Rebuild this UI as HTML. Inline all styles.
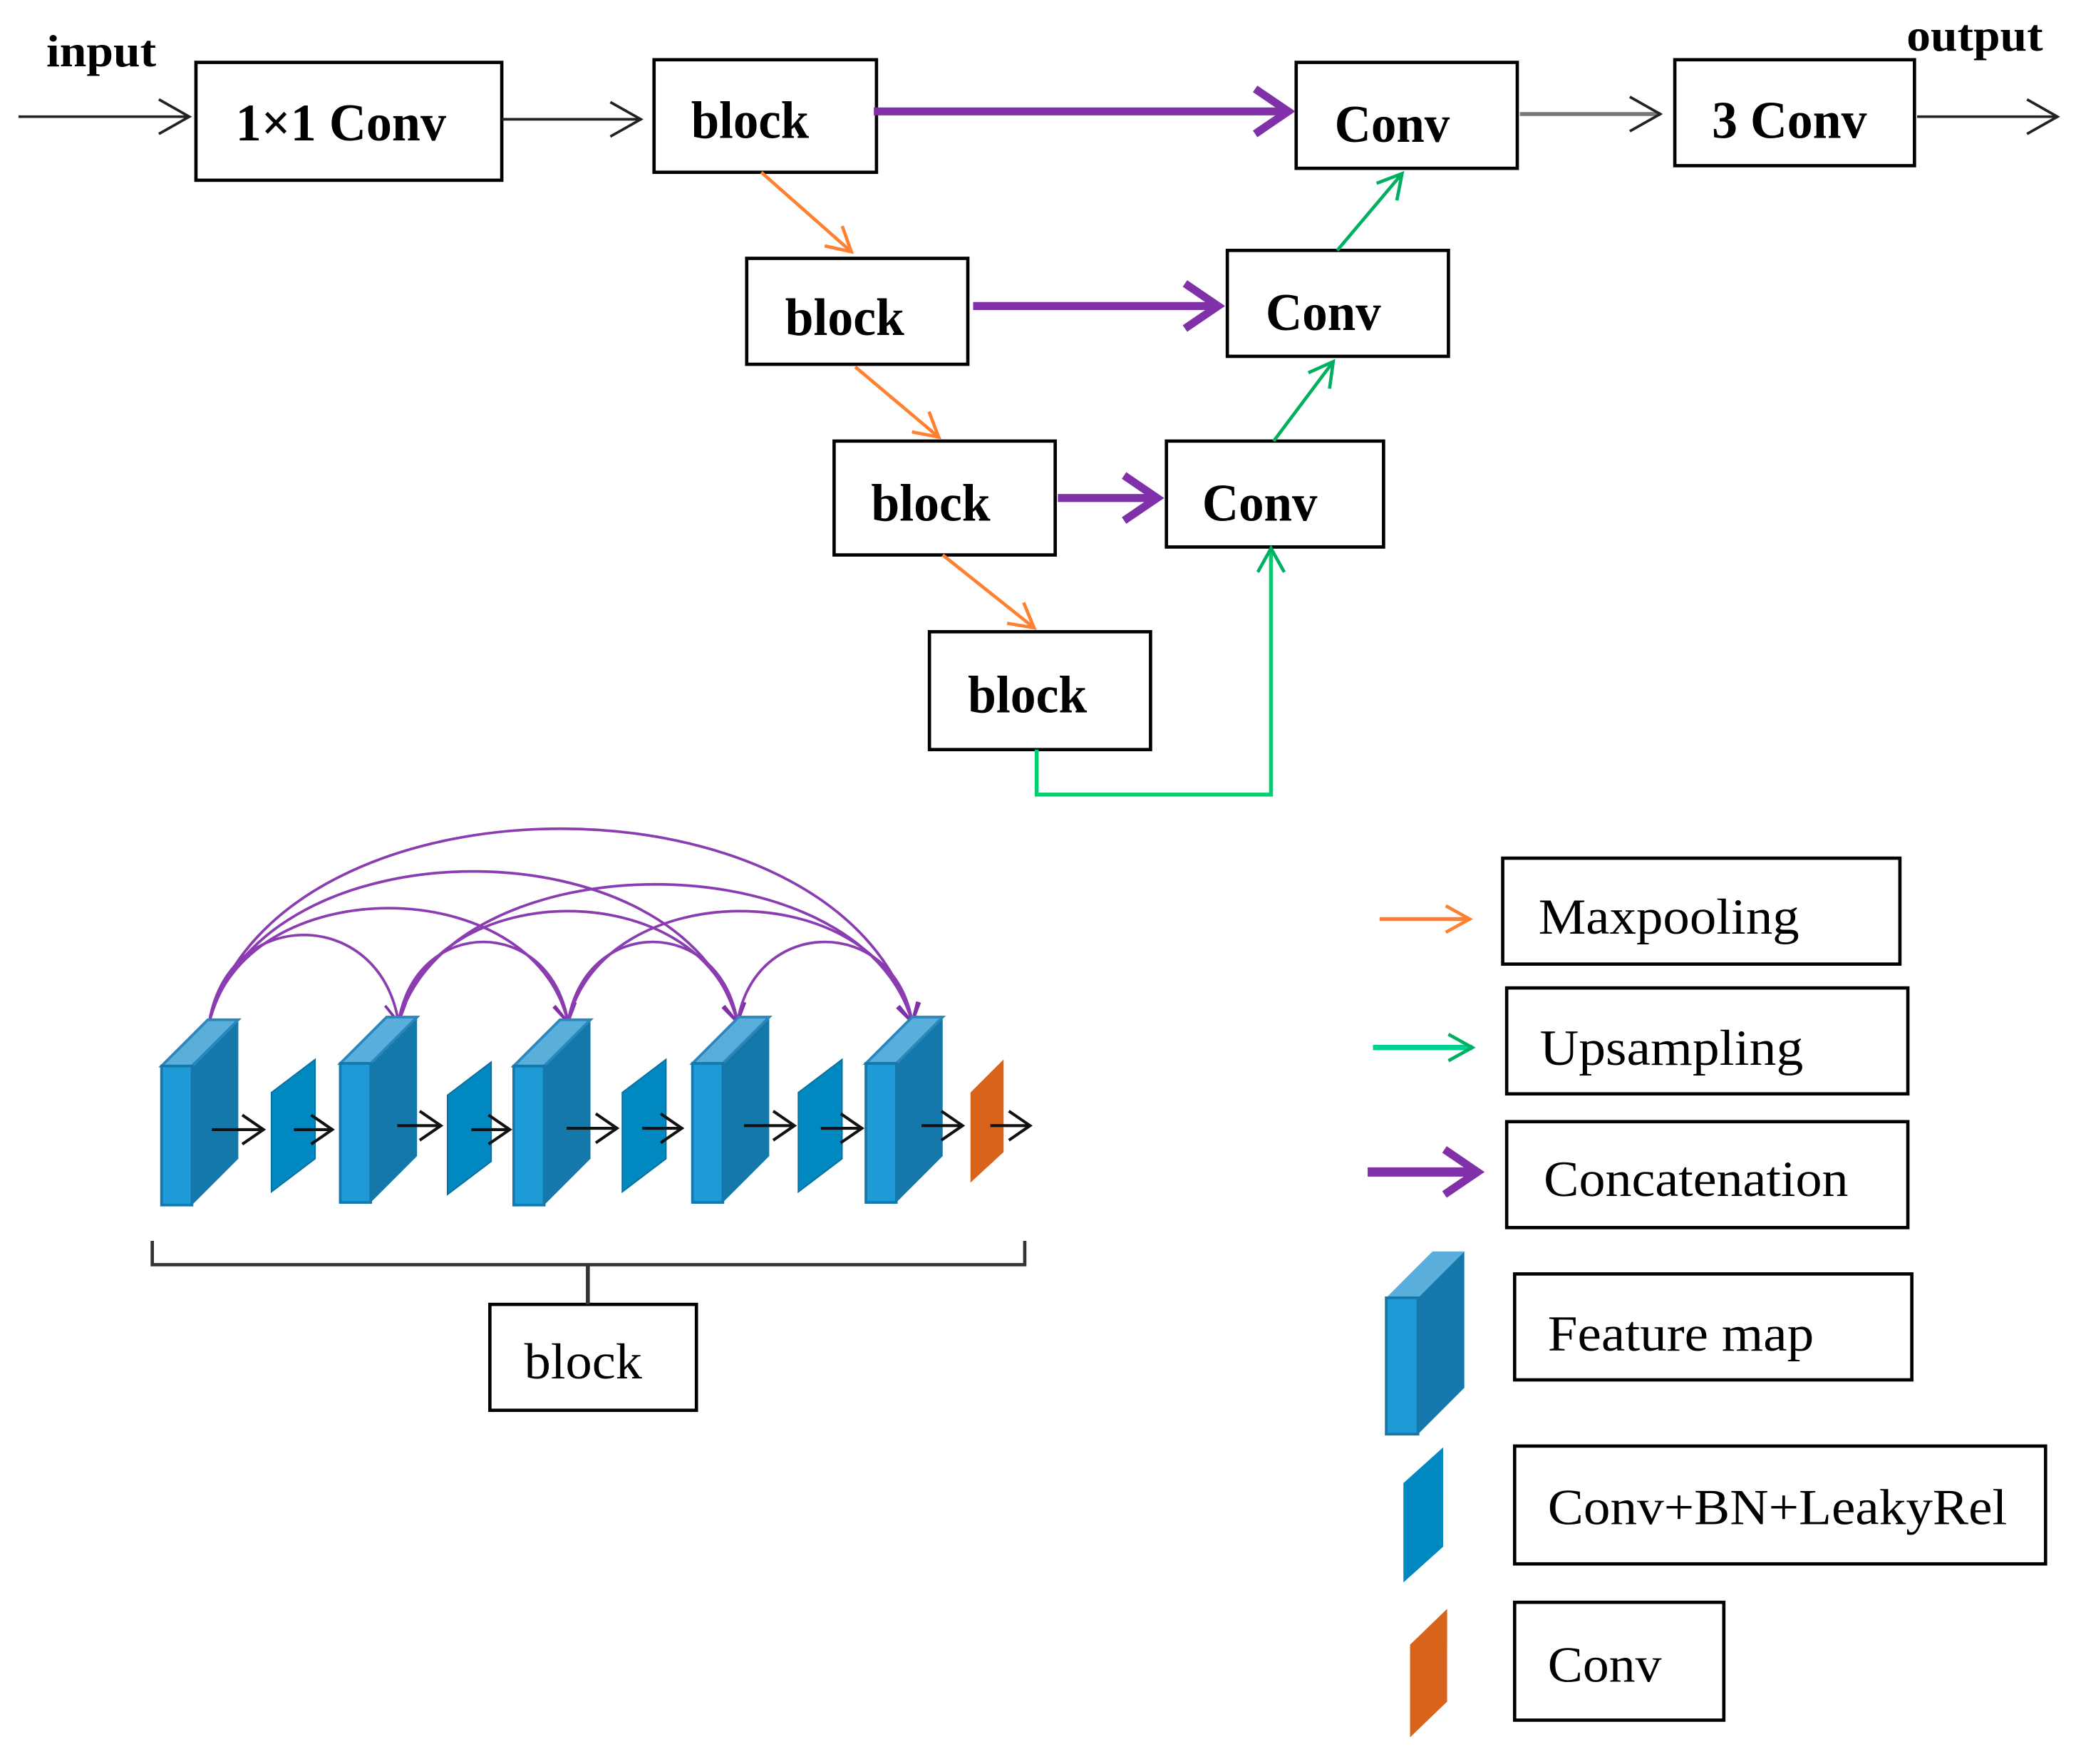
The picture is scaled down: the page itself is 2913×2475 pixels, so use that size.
<!DOCTYPE html>
<html><head><meta charset="utf-8"><style>html,body{margin:0;padding:0;background:#fff}svg{display:block}</style></head>
<body>
<svg width="2913" height="2475" viewBox="0 0 1568 1332" xmlns="http://www.w3.org/2000/svg">
<defs>
<marker id="mk" markerUnits="userSpaceOnUse" markerWidth="30" markerHeight="34" refX="25" refY="15" orient="auto"><path d="M2,2 L25,15 L2,28" fill="none" stroke="#222" stroke-width="2"/></marker>
<marker id="mo" markerUnits="userSpaceOnUse" markerWidth="30" markerHeight="30" refX="20" refY="12" orient="auto"><path d="M2,2 L20,12 L2,22" fill="none" stroke="#ff8030" stroke-width="2.5"/></marker>
<marker id="mg" markerUnits="userSpaceOnUse" markerWidth="30" markerHeight="30" refX="20" refY="12" orient="auto"><path d="M2,2 L20,12 L2,22" fill="none" stroke="#00b060" stroke-width="2.5"/></marker>
<marker id="mp" markerUnits="userSpaceOnUse" markerWidth="40" markerHeight="44" refX="30" refY="20" orient="auto"><path d="M5,3 L30,20 L5,37" fill="none" stroke="#8030a8" stroke-width="6"/></marker>
<marker id="mps" markerUnits="userSpaceOnUse" markerWidth="24" markerHeight="24" refX="16" refY="10" orient="auto"><path d="M2,2 L16,10 L2,18" fill="none" stroke="#8030a8" stroke-width="2"/></marker>
<marker id="ms" markerUnits="userSpaceOnUse" markerWidth="24" markerHeight="30" refX="18" refY="13" orient="auto"><path d="M2,2 L18,13 L2,24" fill="none" stroke="#111" stroke-width="2.2"/></marker>
<g id="fm">
<polygon points="23,-105 58,-140 58,-35 23,0" fill="#1479aa"/>
<polygon points="0,-105 35,-140 58,-140 23,-105" fill="#5aaedc" stroke="#2a86bb" stroke-width="2"/>
<rect x="0" y="-105" width="23" height="105" fill="#1e9ad6" stroke="#1478ac" stroke-width="2"/>
</g>
<polygon id="th" points="0,25 33,0 33,75 0,100" fill="#0088c0" stroke="#0a6e9e" stroke-width="1"/>
</defs>
<g fill="none" stroke="#000" stroke-width="2.5">
<rect x="148" y="47" width="231" height="89"/>
<rect x="494" y="45" width="168" height="85"/>
<rect x="979" y="47" width="167" height="80"/>
<rect x="1265" y="45" width="181" height="80"/>
<rect x="564" y="195" width="167" height="80"/>
<rect x="927" y="189" width="167" height="80"/>
<rect x="630" y="333" width="167" height="86"/>
<rect x="881" y="333" width="164" height="80"/>
<rect x="702" y="477" width="167" height="89"/>
<rect x="370" y="985" width="156" height="80"/>
<rect x="1135" y="648" width="300" height="80"/>
<rect x="1138" y="746" width="303" height="80"/>
<rect x="1138" y="847" width="303" height="80"/>
<rect x="1144" y="962" width="300" height="80"/>
<rect x="1144" y="1092" width="401" height="89"/>
<rect x="1144" y="1210" width="158" height="89"/>
</g>
<g font-family="Liberation Serif, serif" font-weight="bold" font-size="40" fill="#000">
<text x="35" y="50" font-size="34" textLength="83" lengthAdjust="spacingAndGlyphs">input</text>
<text x="1440" y="38" font-size="34" textLength="103" lengthAdjust="spacingAndGlyphs">output</text>
<text x="178" y="106" textLength="159" lengthAdjust="spacingAndGlyphs">1×1 Conv</text>
<text x="522" y="104" textLength="89" lengthAdjust="spacingAndGlyphs">block</text>
<text x="1008" y="107" textLength="87" lengthAdjust="spacingAndGlyphs">Conv</text>
<text x="1293" y="104" textLength="117" lengthAdjust="spacingAndGlyphs">3 Conv</text>
<text x="593" y="253" textLength="90" lengthAdjust="spacingAndGlyphs">block</text>
<text x="956" y="249" textLength="87" lengthAdjust="spacingAndGlyphs">Conv</text>
<text x="658" y="393" textLength="90" lengthAdjust="spacingAndGlyphs">block</text>
<text x="908" y="393" textLength="87" lengthAdjust="spacingAndGlyphs">Conv</text>
<text x="731" y="538" textLength="90" lengthAdjust="spacingAndGlyphs">block</text>
</g>
<g font-family="Liberation Serif, serif" font-size="38" fill="#000">
<text x="396" y="1041" textLength="89" lengthAdjust="spacingAndGlyphs">block</text>
<text x="1162" y="705" textLength="197" lengthAdjust="spacingAndGlyphs">Maxpooling</text>
<text x="1163" y="804" textLength="199" lengthAdjust="spacingAndGlyphs">Upsampling</text>
<text x="1166" y="903" textLength="230" lengthAdjust="spacingAndGlyphs">Concatenation</text>
<text x="1169" y="1020" textLength="201" lengthAdjust="spacingAndGlyphs">Feature map</text>
<text x="1169" y="1151" textLength="347" lengthAdjust="spacingAndGlyphs">Conv+BN+LeakyRel</text>
<text x="1169" y="1270" textLength="86" lengthAdjust="spacingAndGlyphs">Conv</text>
</g>
<g fill="none">
<line x1="14" y1="88" x2="143" y2="88" stroke="#222" stroke-width="2" marker-end="url(#mk)"/>
<line x1="379" y1="90" x2="484" y2="90" stroke="#222" stroke-width="2" marker-end="url(#mk)"/>
<line x1="1148" y1="86" x2="1254" y2="86" stroke="#777" stroke-width="3" marker-end="url(#mk)"/>
<line x1="1448" y1="88" x2="1554" y2="88" stroke="#222" stroke-width="2" marker-end="url(#mk)"/>
<line x1="660" y1="84" x2="973" y2="84" stroke="#8030a8" stroke-width="6" marker-end="url(#mp)"/>
<line x1="735" y1="231" x2="920" y2="231" stroke="#8030a8" stroke-width="6" marker-end="url(#mp)"/>
<line x1="799" y1="376" x2="874" y2="376" stroke="#8030a8" stroke-width="6" marker-end="url(#mp)"/>
<line x1="575" y1="130" x2="643" y2="190" stroke="#ff8030" stroke-width="2.5" marker-end="url(#mo)"/>
<line x1="646" y1="277" x2="709" y2="330" stroke="#ff8030" stroke-width="2.5" marker-end="url(#mo)"/>
<line x1="712" y1="419" x2="781" y2="474" stroke="#ff8030" stroke-width="2.5" marker-end="url(#mo)"/>
<line x1="1010" y1="189" x2="1059" y2="131" stroke="#00b060" stroke-width="2.5" marker-end="url(#mg)"/>
<line x1="962" y1="333" x2="1007" y2="273" stroke="#00b060" stroke-width="2.5" marker-end="url(#mg)"/>
<polyline points="783,566 783,600 960,600 960,414" stroke="#00d070" stroke-width="3" marker-end="url(#mg)"/>
<line x1="1042" y1="694" x2="1110" y2="694" stroke="#ff8030" stroke-width="3" marker-end="url(#mo)"/>
<line x1="1037" y1="791" x2="1112" y2="791" stroke="#00d090" stroke-width="4" marker-end="url(#mg)"/>
<line x1="1033" y1="885" x2="1116" y2="885" stroke="#8030a8" stroke-width="7" marker-end="url(#mp)"/>
<polyline points="115,937 115,955 774,955 774,937" stroke="#333" stroke-width="2.5"/>
<line x1="444" y1="955" x2="444" y2="985" stroke="#333" stroke-width="3"/>
</g>
<g fill="none" stroke="#8a3cb0" stroke-width="2">
<path d="M158,772 C172,684 287,684 301,772" marker-end="url(#mps)"/>
<path d="M158,772 C185,657 402,657 429,772" marker-end="url(#mps)"/>
<path d="M158,772 C198,620 517,620 557,772" marker-end="url(#mps)"/>
<path d="M158,772 C211,577 636,577 689,772" marker-end="url(#mps)"/>
<path d="M301,772 C314,691 416,691 429,772" marker-end="url(#mps)"/>
<path d="M301,772 C327,660 531,660 557,772" marker-end="url(#mps)"/>
<path d="M301,772 C340,633 650,633 689,772" marker-end="url(#mps)"/>
<path d="M429,772 C442,691 544,691 557,772" marker-end="url(#mps)"/>
<path d="M429,772 C455,660 663,660 689,772" marker-end="url(#mps)"/>
<path d="M557,772 C570,691 676,691 689,772" marker-end="url(#mps)"/>
</g>
<use href="#fm" x="122" y="910"/>
<use href="#fm" x="257" y="908"/>
<use href="#fm" x="388" y="910"/>
<use href="#fm" x="523" y="908"/>
<use href="#fm" x="654" y="908"/>
<use href="#th" x="205" y="800"/>
<use href="#th" x="338" y="802"/>
<use href="#th" x="470" y="800"/>
<use href="#th" x="603" y="800"/>
<polygon points="733,825 758,800 758,870 733,893" fill="#d8641c"/>
<g stroke="#111" stroke-width="2.2" fill="none">
<line x1="160" y1="853" x2="199" y2="853" marker-end="url(#ms)"/>
<line x1="222" y1="853" x2="251" y2="853" marker-end="url(#ms)"/>
<line x1="300" y1="850" x2="333" y2="850" marker-end="url(#ms)"/>
<line x1="356" y1="853" x2="385" y2="853" marker-end="url(#ms)"/>
<line x1="428" y1="852" x2="466" y2="852" marker-end="url(#ms)"/>
<line x1="485" y1="852" x2="515" y2="852" marker-end="url(#ms)"/>
<line x1="562" y1="850" x2="600" y2="850" marker-end="url(#ms)"/>
<line x1="620" y1="852" x2="651" y2="852" marker-end="url(#ms)"/>
<line x1="696" y1="850" x2="727" y2="850" marker-end="url(#ms)"/>
<line x1="748" y1="850" x2="778" y2="850" marker-end="url(#ms)"/>
</g>
<polygon points="1071,980 1106,945 1106,1048 1071,1083" fill="#1479aa"/>
<polygon points="1047,980 1082,945 1106,945 1071,980" fill="#5aaedc"/>
<rect x="1047" y="980" width="24" height="103" fill="#1e9ad6" stroke="#1478ac" stroke-width="2"/>
<polygon points="1060,1120 1090,1093 1090,1168 1060,1195" fill="#0088c0"/>
<polygon points="1065,1242 1093,1215 1093,1285 1065,1312" fill="#d8641c"/>
</svg>
</body></html>
